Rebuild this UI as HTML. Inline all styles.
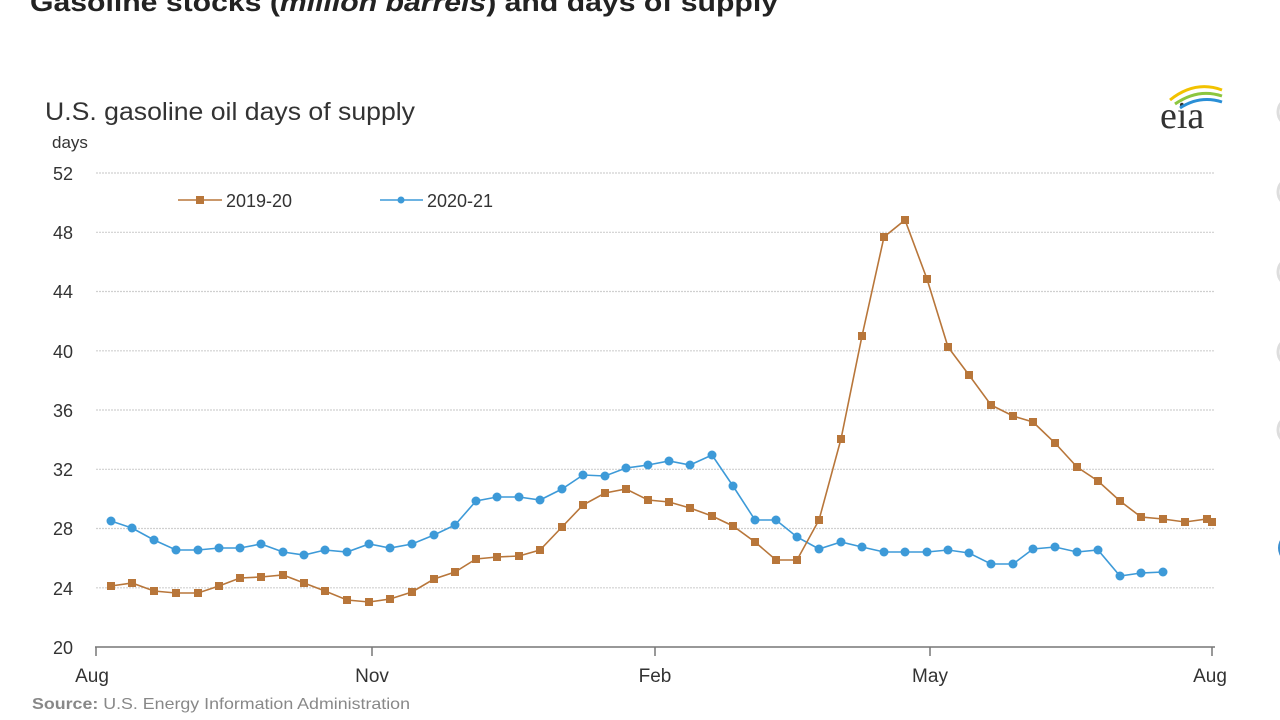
<!DOCTYPE html>
<html><head><meta charset="utf-8"><style>
html,body{margin:0;padding:0;background:#fff;}
svg{display:block;font-family:"Liberation Sans",Arial,sans-serif;}
</style></head><body>
<svg width="1280" height="720" viewBox="0 0 1280 720" xmlns="http://www.w3.org/2000/svg">
<text x="30" y="11" font-size="26" font-weight="bold" fill="#222" textLength="748" lengthAdjust="spacingAndGlyphs">Gasoline stocks (<tspan font-style="italic">million barrels</tspan>) and days of supply</text>
<text x="45" y="120" font-size="25" fill="#333" textLength="370" lengthAdjust="spacingAndGlyphs">U.S. gasoline oil days of supply</text>
<text x="52" y="148" font-size="17" fill="#333">days</text>
<g font-family="Liberation Serif,serif"><text x="1160" y="128" font-size="38" fill="#333">eia</text></g>
<path d="M1170 100 Q1195 80 1222 90" stroke="#f2c200" stroke-width="3" fill="none"/>
<path d="M1175 104 Q1198 88 1222 96" stroke="#8cc63f" stroke-width="3" fill="none"/>
<path d="M1180 108 Q1200 95 1222 102" stroke="#2a8fd6" stroke-width="3" fill="none"/>
<g fill="none" stroke="#ddd" stroke-width="3">
<circle cx="1292" cy="112" r="14"/><circle cx="1292" cy="192" r="14"/><circle cx="1292" cy="272" r="14"/><circle cx="1292" cy="352" r="14"/><circle cx="1292" cy="430" r="14"/>
</g>
<circle cx="1294" cy="548" r="16" fill="#3b8fd0"/>
<g stroke="#d0d0d0" stroke-width="1.2" stroke-dasharray="2,1">
<line x1="96" x2="1215" y1="173" y2="173"/><line x1="96" x2="1215" y1="232.3" y2="232.3"/>
<line x1="96" x2="1215" y1="291.5" y2="291.5"/><line x1="96" x2="1215" y1="350.8" y2="350.8"/>
<line x1="96" x2="1215" y1="410" y2="410"/><line x1="96" x2="1215" y1="469.3" y2="469.3"/>
<line x1="96" x2="1215" y1="528.5" y2="528.5"/><line x1="96" x2="1215" y1="587.8" y2="587.8"/>
</g>
<g font-size="18" fill="#333" text-anchor="end">
<text x="73" y="180">52</text><text x="73" y="239">48</text><text x="73" y="298">44</text><text x="73" y="358">40</text>
<text x="73" y="417">36</text><text x="73" y="476">32</text><text x="73" y="535">28</text><text x="73" y="595">24</text><text x="73" y="654">20</text>
</g>
<g stroke="#777" stroke-width="1.5">
<line x1="95" x2="1215" y1="647" y2="647"/>
<line x1="96" x2="96" y1="647" y2="656"/><line x1="372" x2="372" y1="647" y2="656"/>
<line x1="655" x2="655" y1="647" y2="656"/><line x1="930" x2="930" y1="647" y2="656"/><line x1="1212" x2="1212" y1="647" y2="656"/>
</g>
<g font-size="19" fill="#333" text-anchor="middle">
<text x="92" y="682">Aug</text><text x="372" y="682">Nov</text><text x="655" y="682">Feb</text><text x="930" y="682">May</text><text x="1210" y="682">Aug</text>
</g>
<text x="32" y="709" font-size="16" fill="#888" textLength="378" lengthAdjust="spacingAndGlyphs"><tspan font-weight="bold">Source:</tspan> U.S. Energy Information Administration</text>
<line x1="178" x2="222" y1="200" y2="200" stroke="#b8763a" stroke-width="1.5"/><rect x="196" y="196" width="8" height="8" fill="#b8763a"/>
<text x="226" y="207" font-size="18" fill="#333">2019-20</text>
<line x1="380" x2="423" y1="200" y2="200" stroke="#3d9ad8" stroke-width="1.5"/><circle cx="401" cy="200" r="3.5" fill="#3d9ad8"/>
<text x="427" y="207" font-size="18" fill="#333">2020-21</text>
<polyline fill="none" stroke="#3d9ad8" stroke-width="1.6" points="111,521 132,528 154,540 176,550 198,550 219,548 240,548 261,544 283,552 304,555 325,550 347,552 369,544 390,548 412,544 434,535 455,525 476,501 497,497 519,497 540,500 562,489 583,475 605,476 626,468 648,465 669,461 690,465 712,455 733,486 755,520 776,520 797,537 819,549 841,542 862,547 884,552 905,552 927,552 948,550 969,553 991,564 1013,564 1033,549 1055,547 1077,552 1098,550 1120,576 1141,573 1163,572"/>
<polyline fill="none" stroke="#b8763a" stroke-width="1.6" points="111,586 132,583 154,591 176,593 198,593 219,586 240,578 261,577 283,575 304,583 325,591 347,600 369,602 390,599 412,592 434,579 455,572 476,559 497,557 519,556 540,550 562,527 583,505 605,493 626,489 648,500 669,502 690,508 712,516 733,526 755,542 776,560 797,560 819,520 841,439 862,336 884,237 905,220 927,279 948,347 969,375 991,405 1013,416 1033,422 1055,443 1077,467 1098,481 1120,501 1141,517 1163,519 1185,522 1207,519 1212,522"/>
<g fill="#3d9ad8">
<circle cx="111" cy="521" r="4.5"/><circle cx="132" cy="528" r="4.5"/><circle cx="154" cy="540" r="4.5"/><circle cx="176" cy="550" r="4.5"/><circle cx="198" cy="550" r="4.5"/><circle cx="219" cy="548" r="4.5"/><circle cx="240" cy="548" r="4.5"/><circle cx="261" cy="544" r="4.5"/><circle cx="283" cy="552" r="4.5"/><circle cx="304" cy="555" r="4.5"/><circle cx="325" cy="550" r="4.5"/><circle cx="347" cy="552" r="4.5"/><circle cx="369" cy="544" r="4.5"/><circle cx="390" cy="548" r="4.5"/><circle cx="412" cy="544" r="4.5"/><circle cx="434" cy="535" r="4.5"/><circle cx="455" cy="525" r="4.5"/><circle cx="476" cy="501" r="4.5"/><circle cx="497" cy="497" r="4.5"/><circle cx="519" cy="497" r="4.5"/><circle cx="540" cy="500" r="4.5"/><circle cx="562" cy="489" r="4.5"/><circle cx="583" cy="475" r="4.5"/><circle cx="605" cy="476" r="4.5"/><circle cx="626" cy="468" r="4.5"/><circle cx="648" cy="465" r="4.5"/><circle cx="669" cy="461" r="4.5"/><circle cx="690" cy="465" r="4.5"/><circle cx="712" cy="455" r="4.5"/><circle cx="733" cy="486" r="4.5"/><circle cx="755" cy="520" r="4.5"/><circle cx="776" cy="520" r="4.5"/><circle cx="797" cy="537" r="4.5"/><circle cx="819" cy="549" r="4.5"/><circle cx="841" cy="542" r="4.5"/><circle cx="862" cy="547" r="4.5"/><circle cx="884" cy="552" r="4.5"/><circle cx="905" cy="552" r="4.5"/><circle cx="927" cy="552" r="4.5"/><circle cx="948" cy="550" r="4.5"/><circle cx="969" cy="553" r="4.5"/><circle cx="991" cy="564" r="4.5"/><circle cx="1013" cy="564" r="4.5"/><circle cx="1033" cy="549" r="4.5"/><circle cx="1055" cy="547" r="4.5"/><circle cx="1077" cy="552" r="4.5"/><circle cx="1098" cy="550" r="4.5"/><circle cx="1120" cy="576" r="4.5"/><circle cx="1141" cy="573" r="4.5"/><circle cx="1163" cy="572" r="4.5"/>
</g>
<g fill="#b8763a">
<rect x="107" y="582" width="8" height="8"/><rect x="128" y="579" width="8" height="8"/><rect x="150" y="587" width="8" height="8"/><rect x="172" y="589" width="8" height="8"/><rect x="194" y="589" width="8" height="8"/><rect x="215" y="582" width="8" height="8"/><rect x="236" y="574" width="8" height="8"/><rect x="257" y="573" width="8" height="8"/><rect x="279" y="571" width="8" height="8"/><rect x="300" y="579" width="8" height="8"/><rect x="321" y="587" width="8" height="8"/><rect x="343" y="596" width="8" height="8"/><rect x="365" y="598" width="8" height="8"/><rect x="386" y="595" width="8" height="8"/><rect x="408" y="588" width="8" height="8"/><rect x="430" y="575" width="8" height="8"/><rect x="451" y="568" width="8" height="8"/><rect x="472" y="555" width="8" height="8"/><rect x="493" y="553" width="8" height="8"/><rect x="515" y="552" width="8" height="8"/><rect x="536" y="546" width="8" height="8"/><rect x="558" y="523" width="8" height="8"/><rect x="579" y="501" width="8" height="8"/><rect x="601" y="489" width="8" height="8"/><rect x="622" y="485" width="8" height="8"/><rect x="644" y="496" width="8" height="8"/><rect x="665" y="498" width="8" height="8"/><rect x="686" y="504" width="8" height="8"/><rect x="708" y="512" width="8" height="8"/><rect x="729" y="522" width="8" height="8"/><rect x="751" y="538" width="8" height="8"/><rect x="772" y="556" width="8" height="8"/><rect x="793" y="556" width="8" height="8"/><rect x="815" y="516" width="8" height="8"/><rect x="837" y="435" width="8" height="8"/><rect x="858" y="332" width="8" height="8"/><rect x="880" y="233" width="8" height="8"/><rect x="901" y="216" width="8" height="8"/><rect x="923" y="275" width="8" height="8"/><rect x="944" y="343" width="8" height="8"/><rect x="965" y="371" width="8" height="8"/><rect x="987" y="401" width="8" height="8"/><rect x="1009" y="412" width="8" height="8"/><rect x="1029" y="418" width="8" height="8"/><rect x="1051" y="439" width="8" height="8"/><rect x="1073" y="463" width="8" height="8"/><rect x="1094" y="477" width="8" height="8"/><rect x="1116" y="497" width="8" height="8"/><rect x="1137" y="513" width="8" height="8"/><rect x="1159" y="515" width="8" height="8"/><rect x="1181" y="518" width="8" height="8"/><rect x="1203" y="515" width="8" height="8"/><rect x="1208" y="518" width="8" height="8"/>
</g>
</svg>
</body></html>
